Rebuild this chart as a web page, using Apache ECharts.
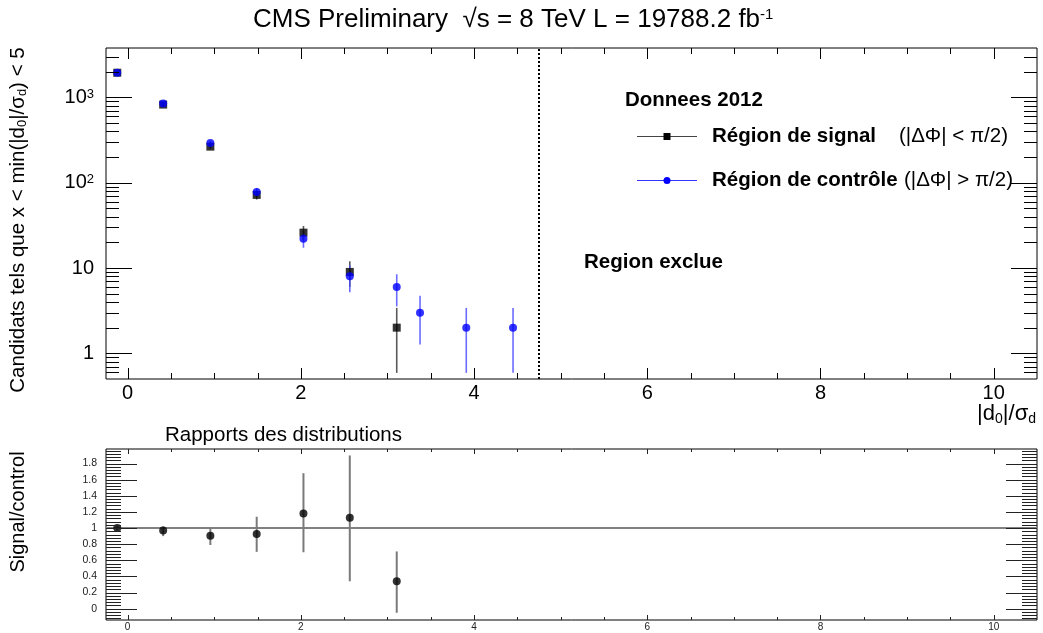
<!DOCTYPE html>
<html><head><meta charset="utf-8">
<script src="https://cdn.jsdelivr.net/npm/echarts@6/dist/echarts.min.js"></script>
<style>html,body{margin:0;padding:0;background:#fff}#c{width:1043px;height:633px}</style>
</head><body><div id="c"></div>
<script>
// ---------- data ----------
const signalX   = [-0.12, 0.41, 0.955, 1.49, 2.03, 2.565, 3.107];
const signalY   = [1950, 825, 265, 72, 26, 9, 2];
const signalErr = [44, 29, 16, 8.5, 5.1, 3, 1.41];

const controlX   = [-0.12, 0.41, 0.955, 1.49, 2.03, 2.565, 3.107, 3.376, 3.91, 4.45];
const controlY   = [1950, 850, 293, 78, 22, 8, 6, 3, 2, 2];
const controlErr = [44, 29, 17, 8.8, 4.7, 2.8, 2.45, 1.73, 1.41, 1.41];

const ratioX    = [-0.12, 0.41, 0.955, 1.49, 2.03, 2.565, 3.107];
const ratioY    = [1.0, 0.97, 0.905, 0.925, 1.18, 1.128, 0.34];
const ratioLow  = [0.97, 0.90, 0.79, 0.705, 0.70, 0.34, -0.05];
const ratioHigh = [1.03, 1.02, 1.00, 1.14, 1.68, 1.90, 0.71];

const exclusionX = 4.75;
const ratioRef = 1;

const xRange = [-0.25, 10.5];
const yRangeTop = [0.5, 3800];
const yRangeLow = [-0.14, 1.98];

const FONT = '"Liberation Sans", Arial, Helvetica, sans-serif';

// ---------- axis decoration (ROOT-style ticks on all four sides) ----------
const topTicks = [], lowTicks = [];
for (let i = 0; i <= 20; i++) {
  const v = i * 0.5;
  const major = (i % 4 === 0) ? 1 : 0;
  topTicks.push([v, 1, 0, major]);
  lowTicks.push([v, 1, 0, major]);
}
for (let e = -1; e <= 3; e++) {
  for (let m = 1; m <= 9; m++) {
    const v = m * Math.pow(10, e);
    if (v > yRangeTop[0] && v < yRangeTop[1]) topTicks.push([0, v, 1, m === 1 ? 1 : 0]);
  }
}
for (let i = -3; i <= 49; i++) {
  lowTicks.push([0, Math.round(i * 4) / 100, 1, (i % 5 === 0) ? 1 : 0]);
}

function tickRenderer(xMajor, xMinor, yMajor, yMinor, color) {
  return function (params, api) {
    const cs = params.coordSys;
    const p = api.coord([api.value(0), api.value(1)]);
    const major = api.value(3) === 1;
    const st = { stroke: color, lineWidth: 1 };
    const ch = [];
    if (api.value(2) === 0) {
      const len = major ? xMajor : xMinor;
      const x = Math.round(p[0]) + 0.5;
      ch.push({ type: 'line', shape: { x1: x, y1: cs.y + cs.height, x2: x, y2: cs.y + cs.height - len }, style: st });
      ch.push({ type: 'line', shape: { x1: x, y1: cs.y, x2: x, y2: cs.y + len }, style: st });
    } else {
      const len = major ? yMajor : yMinor;
      const y = Math.round(p[1]) + 0.5;
      ch.push({ type: 'line', shape: { x1: cs.x, y1: y, x2: cs.x + len, y2: y }, style: st });
      ch.push({ type: 'line', shape: { x1: cs.x + cs.width, y1: y, x2: cs.x + cs.width - len, y2: y }, style: st });
    }
    return { type: 'group', children: ch };
  };
}

function errRenderer(color, width) {
  return function (params, api) {
    const a = api.coord([api.value(0), api.value(1)]);
    const b = api.coord([api.value(0), api.value(2)]);
    return { type: 'line', shape: { x1: a[0], y1: a[1], x2: b[0], y2: b[1] }, style: { stroke: color, lineWidth: width } };
  };
}

const signalPts = signalX.map((x, i) => [x, signalY[i]]);
const controlPts = controlX.map((x, i) => [x, controlY[i]]);
const ratioPts = ratioX.map((x, i) => [x, ratioY[i]]);
const signalBars = signalX.map((x, i) => [x, signalY[i] - signalErr[i], signalY[i] + signalErr[i]]);
const controlBars = controlX.map((x, i) => [x, controlY[i] - controlErr[i], controlY[i] + controlErr[i]]);
const ratioBars = ratioX.map((x, i) => [x, ratioLow[i], ratioHigh[i]]);

function logLabel(v) {
  const e = Math.round(Math.log10(v));
  if (e === 0) return '1';
  if (e === 1) return '10';
  return '10{sup|' + e + '}';
}

const chart = echarts.init(document.getElementById('c'), null, { renderer: 'canvas' });
chart.setOption({
  animation: false,
  backgroundColor: '#fff',
  textStyle: { fontFamily: FONT },
  title: [
    {
      text: 'CMS Preliminary  √s = 8 TeV L = 19788.2 fb{sup|-1}',
      left: 248, top: 2,
      textStyle: { fontFamily: FONT, fontSize: 26, fontWeight: 'normal', color: '#000',
        rich: { sup: { fontFamily: FONT, fontSize: 15, verticalAlign: 'top', color: '#000' } } }
    },
    {
      text: 'Rapports des distributions', left: 160, top: 420,
      textStyle: { fontFamily: FONT, fontSize: 20.5, fontWeight: 'normal', color: '#000' }
    }
  ],
  grid: [
    { left: 106, top: 48, width: 931, height: 331, show: true, borderColor: '#000', borderWidth: 1, backgroundColor: 'transparent', outerBoundsMode: 'none' },
    { left: 106, top: 449, width: 931, height: 171, show: true, borderColor: '#000', borderWidth: 1, backgroundColor: 'transparent', outerBoundsMode: 'none' }
  ],
  xAxis: [
    { type: 'value', gridIndex: 0, min: xRange[0], max: xRange[1], splitNumber: 5,
      axisLine: { show: false }, axisTick: { show: false }, splitLine: { show: false },
      axisLabel: { fontFamily: FONT, fontSize: 20, color: '#000', margin: 4, showMinLabel: false, showMaxLabel: false } },
    { type: 'value', gridIndex: 1, min: xRange[0], max: xRange[1], splitNumber: 5,
      axisLine: { show: false }, axisTick: { show: false }, splitLine: { show: false },
      axisLabel: { fontFamily: FONT, fontSize: 10, color: '#222', margin: 2, showMinLabel: false, showMaxLabel: false } }
  ],
  yAxis: [
    { type: 'log', logBase: 10, gridIndex: 0, min: yRangeTop[0], max: yRangeTop[1],
      axisLine: { show: false }, axisTick: { show: false }, splitLine: { show: false },
      axisLabel: { fontFamily: FONT, fontSize: 20, color: '#000', margin: 12, showMinLabel: false, showMaxLabel: false,
        formatter: logLabel,
        rich: { sup: { fontFamily: FONT, fontSize: 13, verticalAlign: 'top', color: '#000' } } } },
    { type: 'value', gridIndex: 1, min: yRangeLow[0], max: yRangeLow[1], splitNumber: 10,
      axisLine: { show: false }, axisTick: { show: false }, splitLine: { show: false },
      axisLabel: { fontFamily: FONT, fontSize: 10.5, color: '#222', margin: 9, showMinLabel: false, showMaxLabel: false,
        formatter: v => (Math.abs(v) < 1e-9 ? '0' : String(Math.round(v * 100) / 100)) } }
  ],
  series: [
    { type: 'custom', name: 'signalErr', xAxisIndex: 0, yAxisIndex: 0, data: signalBars, encode: { x: 0, y: [1, 2] },
      renderItem: errRenderer('#5a5a5a', 1.6), z: 2, silent: true, clip: true },
    { type: 'custom', name: 'controlErr', xAxisIndex: 0, yAxisIndex: 0, data: controlBars, encode: { x: 0, y: [1, 2] },
      renderItem: errRenderer('rgba(70,70,255,0.8)', 1.6), z: 2, silent: true, clip: true },
    { type: 'scatter', name: 'Région de signal', xAxisIndex: 0, yAxisIndex: 0, data: signalPts,
      symbol: 'rect', symbolSize: 8, itemStyle: { color: '#000' }, z: 3,
      markLine: { silent: true, symbol: 'none', label: { show: false },
        lineStyle: { type: 'dotted', color: '#000', width: 2 }, data: [{ xAxis: exclusionX }] } },
    { type: 'scatter', name: 'Région de contrôle', xAxisIndex: 0, yAxisIndex: 0, data: controlPts,
      symbol: 'circle', symbolSize: 8, itemStyle: { color: '#0000ff' }, z: 4 },
    { type: 'custom', name: 'ticksTop', xAxisIndex: 0, yAxisIndex: 0, data: topTicks,
      renderItem: tickRenderer(11, 6, 26, 13, '#000'), z: 6, silent: true, clip: false },

    { type: 'custom', name: 'ratioErr', xAxisIndex: 1, yAxisIndex: 1, data: ratioBars, encode: { x: 0, y: [1, 2] },
      renderItem: errRenderer('#7a7a7a', 2), z: 3, silent: true, clip: true },
    { type: 'scatter', name: 'Signal/control', xAxisIndex: 1, yAxisIndex: 1, data: ratioPts,
      symbol: 'circle', symbolSize: 8, itemStyle: { color: '#000' }, z: 4,
      markLine: { silent: true, symbol: 'none', label: { show: false }, z: 2,
        lineStyle: { type: 'solid', color: '#808080', width: 2 }, data: [{ yAxis: ratioRef }] } },
    { type: 'custom', name: 'ticksLow', xAxisIndex: 1, yAxisIndex: 1, data: lowTicks,
      renderItem: tickRenderer(5, 3, 31, 15, '#222'), z: 6, silent: true, clip: false }
  ],
  graphic: [
    { type: 'text', x: 18, y: 220, rotation: Math.PI / 2,
      style: { text: 'Candidats tels que x < min(|d{s|0}|/σ{s|d}) < 5', font: '20.5px ' + FONT, fill: '#000',
        align: 'center', verticalAlign: 'middle', textAlign: 'center', textVerticalAlign: 'middle',
        rich: { s: { fontFamily: FONT, fontSize: 13, verticalAlign: 'bottom', padding: [8, 0, 0, 0] } } } },
    { type: 'text', x: 18, y: 512, rotation: Math.PI / 2,
      style: { text: 'Signal/control', font: '20px ' + FONT, fill: '#000',
        align: 'center', verticalAlign: 'middle', textAlign: 'center', textVerticalAlign: 'middle' } },
    { type: 'text', x: 1036, y: 414,
      style: { text: '|d{s|0}|/σ{s|d}', font: '22px ' + FONT, fill: '#000',
        align: 'right', verticalAlign: 'middle', textAlign: 'right', textVerticalAlign: 'middle',
        rich: { s: { fontFamily: FONT, fontSize: 14, verticalAlign: 'bottom', padding: [10, 0, 0, 0] } } } },

    { type: 'text', x: 625, y: 100,
      style: { text: 'Donnees 2012', font: 'bold 20.5px ' + FONT, fill: '#000', verticalAlign: 'middle', textVerticalAlign: 'middle' } },
    { type: 'line', shape: { x1: 637, y1: 136.5, x2: 697, y2: 136.5 }, style: { stroke: '#444', lineWidth: 1 } },
    { type: 'rect', shape: { x: 663.5, y: 133, width: 7, height: 7 }, style: { fill: '#000' } },
    { type: 'text', x: 712, y: 136,
      style: { text: 'Région de signal', font: 'bold 20.5px ' + FONT, fill: '#000', verticalAlign: 'middle', textVerticalAlign: 'middle' } },
    { type: 'text', x: 899, y: 136,
      style: { text: '(|ΔΦ| < π/2)', font: '20.5px ' + FONT, fill: '#000', verticalAlign: 'middle', textVerticalAlign: 'middle' } },
    { type: 'line', shape: { x1: 637, y1: 180.5, x2: 697, y2: 180.5 }, style: { stroke: '#3333ff', lineWidth: 1 } },
    { type: 'circle', shape: { cx: 667, cy: 180.5, r: 3.5 }, style: { fill: '#0000ff' } },
    { type: 'text', x: 712, y: 180,
      style: { text: 'Région de contrôle', font: 'bold 20.5px ' + FONT, fill: '#000', verticalAlign: 'middle', textVerticalAlign: 'middle' } },
    { type: 'text', x: 904, y: 180,
      style: { text: '(|ΔΦ| > π/2)', font: '20.5px ' + FONT, fill: '#000', verticalAlign: 'middle', textVerticalAlign: 'middle' } },
    { type: 'text', x: 584, y: 262,
      style: { text: 'Region exclue', font: 'bold 20.5px ' + FONT, fill: '#000', verticalAlign: 'middle', textVerticalAlign: 'middle' } }
  ]
});
</script>
</body></html>
